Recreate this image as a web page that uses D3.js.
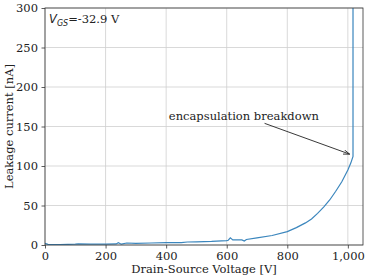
<!DOCTYPE html>
<html>
<head>
<meta charset="utf-8">
<script src="https://cdn.jsdelivr.net/npm/d3@7"></script>
<style>
  body { margin: 0; background: #fff; }
  svg { display: block; font-family: "DejaVu Serif", serif; }
</style>
</head>
<body>
<div id="chart"></div>
<script>
// measured leakage (V_DS in V, I in nA)
var voltage = [0, 10, 50, 100, 110, 150, 200, 235, 242, 252, 270, 300, 350, 400, 450, 470, 500, 550, 600, 605, 612, 620, 650, 658, 665, 700, 750, 800, 830, 860, 880, 900, 920, 940, 960, 980, 1000, 1010, 1017, 1017];
var leakage = [2, 0.8, 0.5, 1, 1.5, 1, 1.2, 1.3, 2.8, 1, 2.5, 2, 2.5, 3, 3, 3.8, 4, 4.5, 5.5, 6, 9, 6.5, 6.5, 5, 7, 9, 12, 17, 22, 28, 33, 40, 48, 57, 68, 80, 95, 104, 112, 320];
var xTicks = [0, 200, 400, 600, 800, 1000];
var yTicks = [0, 50, 100, 150, 200, 250, 300];
var annotText = "encapsulation breakdown";
var annotFrom = [409, 158];   // text anchor
var arrowFrom = [725, 154];
var arrowTo = [1006, 115];

var width = 367, height = 275;
var margin = { top: 8, right: 4, bottom: 30, left: 45 };

var svg = d3.select("#chart").append("svg")
    .attr("width", width)
    .attr("height", height);

var x = d3.scaleLinear().domain([0, 1050]).range([margin.left, width - margin.right]);
var y = d3.scaleLinear().domain([0, 300]).range([height - margin.bottom, margin.top]);

svg.append("defs").append("clipPath").attr("id", "clip")
    .append("rect")
    .attr("x", margin.left).attr("y", margin.top)
    .attr("width", width - margin.left - margin.right)
    .attr("height", height - margin.top - margin.bottom);

// grid
var grid = svg.append("g").attr("stroke", "#cfcfcf").attr("stroke-width", 0.8);
grid.selectAll(".gx").data(xTicks).enter().append("line")
    .attr("x1", d => x(d)).attr("x2", d => x(d))
    .attr("y1", y(0)).attr("y2", y(300));
grid.selectAll(".gy").data(yTicks).enter().append("line")
    .attr("x1", x(0)).attr("x2", x(1050))
    .attr("y1", d => y(d)).attr("y2", d => y(d));

// curve
var line = d3.line().x((d, i) => x(voltage[i])).y(d => y(d));
svg.append("path")
    .datum(leakage)
    .attr("clip-path", "url(#clip)")
    .attr("fill", "none")
    .attr("stroke", "#3b86bd")
    .attr("stroke-width", 1.2)
    .attr("d", line);

// axes
var xAxis = svg.append("g")
    .attr("transform", "translate(0," + y(0) + ")")
    .call(d3.axisBottom(x).tickValues(xTicks).tickSize(3.5).tickPadding(3).tickSizeOuter(0));
var yAxis = svg.append("g")
    .attr("transform", "translate(" + x(0) + ",0)")
    .call(d3.axisLeft(y).tickValues(yTicks).tickSize(3.5).tickPadding(3.5).tickSizeOuter(0));
[xAxis, yAxis].forEach(function (g) {
    g.selectAll("text").attr("font-family", "DejaVu Serif").attr("font-size", 11.5).attr("fill", "#222");
    g.selectAll("line").attr("stroke", "#333").attr("stroke-width", 0.8);
    g.select(".domain").remove();
});

// frame
svg.append("rect")
    .attr("x", x(0)).attr("y", y(300))
    .attr("width", x(1050) - x(0)).attr("height", y(0) - y(300))
    .attr("fill", "none").attr("stroke", "#333").attr("stroke-width", 0.8);

// labels
svg.append("text")
    .attr("x", (x(0) + x(1050)) / 2).attr("y", height - 2)
    .attr("text-anchor", "middle").attr("font-size", 11.5).attr("fill", "#222")
    .text("Drain-Source Voltage [V]");
svg.append("text")
    .attr("transform", "translate(13," + (y(0) + y(300)) / 2 + ") rotate(-90)")
    .attr("text-anchor", "middle").attr("font-size", 11.5).attr("fill", "#222")
    .text("Leakage current [nA]");

var vgs = svg.append("text").attr("x", x(0) + 4).attr("y", y(300) + 15).attr("font-size", 11.5).attr("fill", "#222");
vgs.append("tspan").attr("font-family", "DejaVu Sans").attr("font-style", "italic").text("V");
vgs.append("tspan").attr("font-family", "DejaVu Sans").attr("font-style", "italic").attr("font-size", 8).attr("dy", 2.5).text("GS");
vgs.append("tspan").attr("dy", -2.5).text("=-32.9 V");

// annotation
svg.append("text")
    .attr("x", x(annotFrom[0])).attr("y", y(annotFrom[1]))
    .attr("font-size", 11.5).attr("fill", "#222")
    .text(annotText);

svg.append("defs").append("marker")
    .attr("id", "arr").attr("viewBox", "0 0 10 10")
    .attr("refX", 10).attr("refY", 5)
    .attr("markerWidth", 7).attr("markerHeight", 7)
    .attr("orient", "auto")
    .append("path").attr("d", "M0,1.5 L10,5 L0,8.5").attr("fill", "none").attr("stroke", "#222").attr("stroke-width", 1.3);
svg.append("line")
    .attr("x1", x(arrowFrom[0])).attr("y1", y(arrowFrom[1]))
    .attr("x2", x(arrowTo[0])).attr("y2", y(arrowTo[1]))
    .attr("stroke", "#222").attr("stroke-width", 0.9)
    .attr("marker-end", "url(#arr)");
</script>
</body>
</html>
